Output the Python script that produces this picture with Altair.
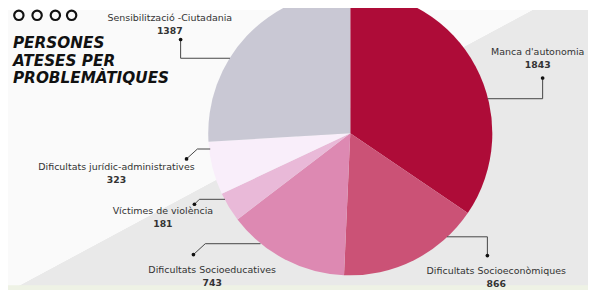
import altair as alt
import pandas as pd

# ---- data ----
categories = ["Manca d'autonomia", "Dificultats Socioeconòmiques", "Dificultats Socioeducatives",
              "Víctimes de violència", "Dificultats jurídic-administratives", "Sensibilització -Ciutadania"]
values = [1843, 866, 743, 181, 323, 1387]
colors = ["#ae0c38", "#cb5276", "#dd89b2", "#e9b9d8", "#f9eefa", "#c9c8d4"]
title_lines = ["PERSONES", "ATESES PER", "PROBLEMÀTIQUES"]

# ---- layout (pixel positions inside the 588x284 canvas) ----
W, H = 588, 284
pie_cx, pie_cy, pie_r = 347, 125, 144
label_xy = [(537, 43), (495, 265), (207, 264), (157, 204), (110, 159), (164, 8)]
value_dy = 13
leaders = [
    [(542, 69), (542, 90), (486, 90)],
    [(486, 249), (486, 230), (445, 230)],
    [(188, 248), (200, 237), (256, 237)],
    [(189, 197), (194, 192), (220, 192)],
    [(181, 151), (192, 141), (205, 141)],
    [(175, 30), (175, 49), (225, 49)],
]

df = pd.DataFrame({"cat": categories, "value": values, "idx": list(range(len(values)))})
df["lx"] = [p[0] for p in label_xy]
df["ly"] = [p[1] for p in label_xy]
df["vy"] = df["ly"] + value_dy
df["vtxt"] = df["value"].astype(str)

lead_rows = []
for i, pts in enumerate(leaders):
    for j, (px, py) in enumerate(pts):
        lead_rows.append({"k": i, "s": j, "px": px, "py": py})
lead_df = pd.DataFrame(lead_rows)
dot_df = pd.DataFrame([{"px": pts[0][0], "py": pts[0][1]} for pts in leaders])

# background diagonal gradient (white upper-left, grey lower-right)
ax, ay = 7 / W, 282 / H
bx, by = 547 / W, -8 / H
mx, my = (ax + bx) / 2, (ay + by) / 2
dx, dy = bx - ax, by - ay
nx, ny = -dy, dx
ln = (nx ** 2 + ny ** 2) ** 0.5
nx, ny = nx / ln, ny / ln
if nx < 0:
    nx, ny = -nx, -ny
e = 0.0008
grad = alt.LinearGradient(
    gradient="linear",
    stops=[alt.GradientStop(color="#fafafa", offset=0), alt.GradientStop(color="#e9e9e9", offset=1)],
    x1=mx - e * nx, y1=my - e * ny, x2=mx + e * nx, y2=my + e * ny,
)
one = pd.DataFrame({"a": [0]})
bg = alt.Chart(one).mark_rect(fill=grad).encode(
    x=alt.value(0), x2=alt.value(W), y=alt.value(0), y2=alt.value(H))
strip = alt.Chart(one).mark_rect(fill="#eef2e5").encode(
    x=alt.value(0), x2=alt.value(W), y=alt.value(279), y2=alt.value(H))

pie = alt.Chart(df).mark_arc(radius=pie_r).encode(
    theta=alt.Theta("value:Q", stack=True),
    color=alt.Color("cat:N", scale=alt.Scale(domain=categories, range=colors), legend=None),
    order=alt.Order("idx:Q", sort="ascending"),
    x=alt.value(pie_cx), y=alt.value(pie_cy),
)

lines = alt.Chart(lead_df).mark_line(color="#444444", strokeWidth=1).encode(
    x=alt.X("px:Q", scale=None), y=alt.Y("py:Q", scale=None),
    detail="k:N", order="s:Q")
dots = alt.Chart(dot_df).mark_circle(color="#111111", size=14, opacity=1).encode(
    x=alt.X("px:Q", scale=None), y=alt.Y("py:Q", scale=None))

LBL_FONT = "DejaVu Sans"
names = alt.Chart(df).mark_text(font=LBL_FONT, fontSize=9.6, color="#333333", baseline="middle",
                                align="center").encode(
    x=alt.X("lx:Q", scale=None), y=alt.Y("ly:Q", scale=None), text="cat:N")
nums = alt.Chart(df).mark_text(font=LBL_FONT, fontSize=9.4, fontWeight="bold", color="#333333",
                               baseline="middle", align="center").encode(
    x=alt.X("lx:Q", scale=None), y=alt.Y("vy:Q", scale=None), text="vtxt:N")

tdf = pd.DataFrame({"t": ["\n".join(title_lines)]})
title = alt.Chart(tdf).mark_text(font="DejaVu Sans", fontSize=15.5, fontWeight="bold", fontStyle="italic",
                                 color="#111111", align="left", baseline="alphabetic",
                                 lineBreak="\n", lineHeight=18).encode(
    x=alt.value(5), y=alt.value(38.5), text="t:N")

cdf = pd.DataFrame({"cx": [11, 29.5, 48, 64.5]})
circles = alt.Chart(cdf).mark_point(shape="circle", filled=False, size=90, stroke="#111111",
                                    strokeWidth=2.2, opacity=1).encode(
    x=alt.X("cx:Q", scale=None), y=alt.value(5.5))

chart = alt.layer(bg, strip, pie, lines, dots, names, nums, title, circles).properties(
    width=W, height=H, autosize=alt.AutoSizeParams(type="none"), padding=0,
).configure_view(stroke=None)

chart.save("out.html", embed_options={"renderer": "svg", "actions": False})
